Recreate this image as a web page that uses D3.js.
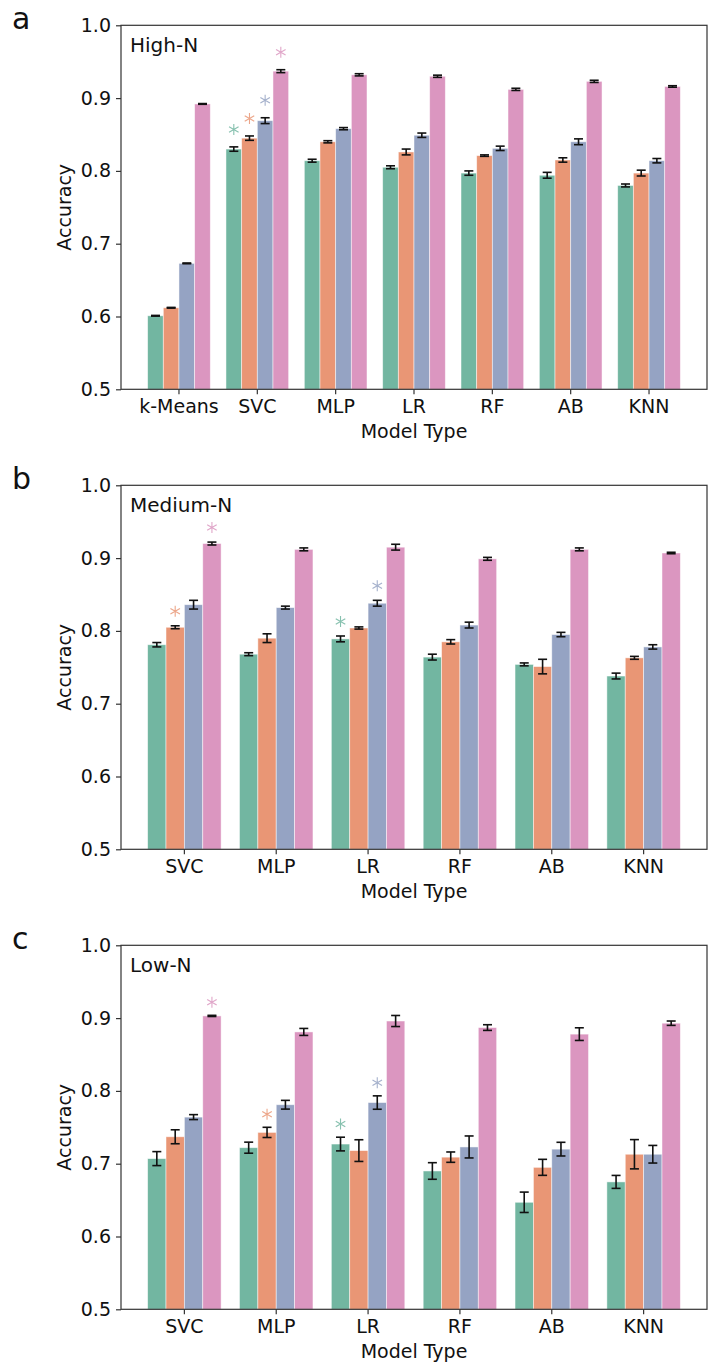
<!DOCTYPE html>
<html><head><meta charset="utf-8">
<script src="https://cdn.jsdelivr.net/npm/d3@7"></script>
<style>body{margin:0;background:#fff;} svg{display:block;font-family:"DejaVu Sans",sans-serif;}</style>
</head><body>
<script>
// ---------- data ----------
const series = ["s1","s2","s3","s4"];
const colors = ["#72b6a1","#e99675","#95a3c3","#db96c0"];
const yTicks = [0.5,0.6,0.7,0.8,0.9,1.0];

const catsHigh = ["k-Means","SVC","MLP","LR","RF","AB","KNN"];
const valsHigh = [
  [0.601,0.612,0.673,0.892],
  [0.830,0.845,0.869,0.937],
  [0.814,0.840,0.858,0.932],
  [0.805,0.826,0.849,0.930],
  [0.797,0.821,0.831,0.912],
  [0.794,0.815,0.840,0.923],
  [0.780,0.797,0.814,0.916]
];
const errsHigh = [
  [0.0005,0.0005,0.0005,0.0005],
  [0.003,0.003,0.004,0.002],
  [0.002,0.0015,0.0015,0.0015],
  [0.002,0.004,0.003,0.0015],
  [0.003,0.001,0.003,0.0015],
  [0.004,0.003,0.004,0.0015],
  [0.002,0.004,0.003,0.001]
];
const starsHigh = [["SVC",0],["SVC",1],["SVC",2],["SVC",3]];

const catsMed = ["SVC","MLP","LR","RF","AB","KNN"];
const valsMed = [
  [0.781,0.805,0.836,0.920],
  [0.768,0.790,0.832,0.912],
  [0.789,0.804,0.838,0.915],
  [0.764,0.785,0.808,0.899],
  [0.754,0.751,0.795,0.912],
  [0.738,0.763,0.778,0.907]
];
const errsMed = [
  [0.003,0.002,0.006,0.002],
  [0.002,0.006,0.002,0.002],
  [0.004,0.0015,0.004,0.004],
  [0.004,0.003,0.004,0.002],
  [0.002,0.010,0.003,0.002],
  [0.004,0.002,0.003,0.001]
];
const starsMed = [["SVC",1],["SVC",3],["LR",0],["LR",2]];

const catsLow = ["SVC","MLP","LR","RF","AB","KNN"];
const valsLow = [
  [0.707,0.737,0.764,0.903],
  [0.722,0.743,0.781,0.881],
  [0.727,0.718,0.784,0.896],
  [0.690,0.709,0.723,0.887],
  [0.647,0.695,0.720,0.878],
  [0.675,0.713,0.713,0.893]
];
const errsLow = [
  [0.0096,0.0096,0.0034,0.0008],
  [0.0076,0.0070,0.0060,0.0048],
  [0.0094,0.0149,0.0092,0.0076],
  [0.0114,0.0071,0.0151,0.0039],
  [0.0140,0.0110,0.0094,0.0087],
  [0.0089,0.0201,0.0121,0.0030]
];
const starsLow = [["SVC",3],["MLP",1],["LR",0],["LR",2]];

const panels = [
  {letter:"a", title:"High-N",   cats:catsHigh, vals:valsHigh, errs:errsHigh, stars:starsHigh, starGap:0.024},
  {letter:"b", title:"Medium-N", cats:catsMed,  vals:valsMed,  errs:errsMed,  stars:starsMed,  starGap:0.020},
  {letter:"c", title:"Low-N",    cats:catsLow,  vals:valsLow,  errs:errsLow,  stars:starsLow,  starGap:0.018}
];

// ---------- layout ----------
const W = 708, H = 1362;
const left = 121, right = 707, axH = 364, top0 = 25.3, panelStep = 460;
const svg = d3.select("body").append("svg").attr("width",W).attr("height",H);

panels.forEach((p,pi)=>{
  const top = top0 + pi*panelStep, bottom = top + axH;
  const n = p.cats.length;
  const x = d3.scaleBand().domain(p.cats).range([left,right])
      .paddingInner(0.2).paddingOuter(0.05*(n-0.2)).align(0.5);
  const xs = d3.scaleBand().domain(d3.range(series.length)).range([0,x.bandwidth()]);
  const y = d3.scaleLinear().domain([0.5,1.0]).range([bottom,top]);
  const g = svg.append("g");

  // bars
  p.cats.forEach((c,ci)=>{
    p.vals[ci].forEach((v,si)=>{
      g.append("rect")
        .attr("x", x(c)+xs(si)).attr("width", xs.bandwidth())
        .attr("y", y(v)).attr("height", y(0.5)-y(v))
        .attr("fill", colors[si])
        .attr("stroke","rgba(255,255,255,0.6)").attr("stroke-width",0.8);
    });
  });
  // error bars
  p.cats.forEach((c,ci)=>{
    p.vals[ci].forEach((v,si)=>{
      const e = p.errs[ci][si];
      const cx = x(c)+xs(si)+xs.bandwidth()/2;
      const eg = g.append("g").attr("stroke","#111").attr("stroke-width",1.6);
      eg.append("line").attr("x1",cx).attr("x2",cx).attr("y1",y(v-e)).attr("y2",y(v+e));
      eg.append("line").attr("x1",cx-4.5).attr("x2",cx+4.5).attr("y1",y(v-e)).attr("y2",y(v-e));
      eg.append("line").attr("x1",cx-4.5).attr("x2",cx+4.5).attr("y1",y(v+e)).attr("y2",y(v+e));
    });
  });
  // stars
  const sym = d3.symbol().type(d3.symbolAsterisk).size(85);
  p.stars.forEach(([c,si])=>{
    const ci = p.cats.indexOf(c);
    const v = p.vals[ci][si] + p.errs[ci][si] + p.starGap;
    const cx = x(c)+xs(si)+xs.bandwidth()/2;
    g.append("path").attr("d",sym()).attr("transform",`translate(${cx},${y(v)})`)
      .attr("fill","none").attr("stroke",colors[si]).attr("stroke-width",1.1).attr("opacity",0.85);
  });

  // axes
  const ya = g.append("g").attr("transform",`translate(${left},0)`)
    .call(d3.axisLeft(y).tickValues(yTicks).tickFormat(d3.format(".1f")).tickSize(5).tickPadding(5));
  const xa = g.append("g").attr("transform",`translate(0,${bottom})`)
    .call(d3.axisBottom(x).tickSize(5).tickPadding(5));
  [ya,xa].forEach(a=>{
    a.select(".domain").remove();
    a.selectAll("line").attr("stroke","#333").attr("stroke-width",1.2);
    a.selectAll("text").attr("font-size",19).attr("fill","#111").attr("font-family","DejaVu Sans");
  });
  // frame
  g.append("rect").attr("x",left).attr("y",top).attr("width",right-left).attr("height",axH)
    .attr("fill","none").attr("stroke","#333").attr("stroke-width",1.2);

  // labels
  g.append("text").attr("x",(left+right)/2).attr("y",bottom+49).attr("text-anchor","middle")
    .attr("font-size",19).attr("fill","#111").text("Model Type");
  g.append("text").attr("transform",`translate(71,${(top+bottom)/2}) rotate(-90)`)
    .attr("text-anchor","middle").attr("font-size",19).attr("fill","#111").text("Accuracy");
  g.append("text").attr("x",130).attr("y",top+26.5).attr("font-size",20).attr("fill","#111").text(p.title);
  g.append("text").attr("x",12).attr("y",top+4).attr("font-size",30).attr("fill","#111").text(p.letter);
});
</script>
</body></html>
